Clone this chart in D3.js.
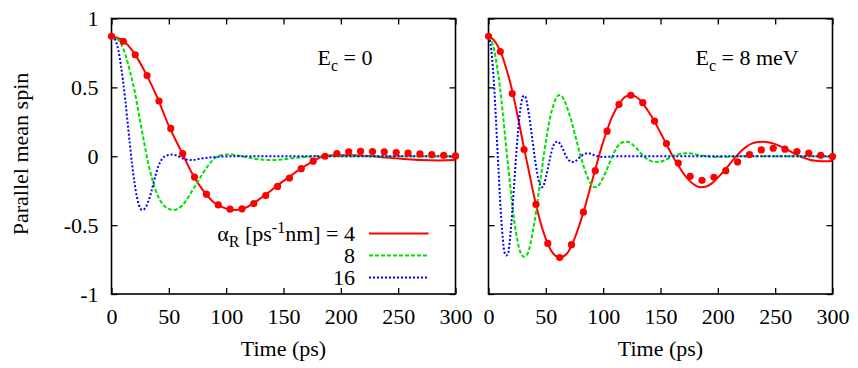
<!DOCTYPE html>
<html lang="en">
<head>
<meta charset="UTF-8">
<title>Parallel mean spin</title>
<script src="https://d3js.org/d3.v7.min.js"></script>
<style>
    body { margin: 0; background: #fff; }
    svg { display: block; }
</style>
</head>
<body>
<script>
    // tick values
    const timeTicks = [0, 50, 100, 150, 200, 250, 300];
    const spinTicks = [-1, -0.5, 0, 0.5, 1];

    // times of the dots (same for both panels)
    const dotTimes = [0, 10.3, 20.7, 31.0, 41.4, 51.7, 62.1, 72.4, 82.8, 93.1, 103.4, 113.8, 124.1, 134.5, 144.8,
        155.2, 165.5, 175.9, 186.2, 196.6, 206.9, 217.2, 227.6, 237.9, 248.3, 258.6, 269.0, 279.3, 289.7, 300];

    // Ec = 0, dots for alpha = 4
    const dotsEc0 = [0.871, 0.835, 0.737, 0.586, 0.401, 0.202, 0.019, -0.151, -0.275, -0.353, -0.384, -0.382, -0.343, -0.285, -0.219,
        -0.158, -0.09, -0.036, 0.0, 0.02, 0.032, 0.036, 0.034, 0.032, 0.027, 0.022, 0.017, 0.012, 0.007, 0.002];
    // Ec = 8 meV, dots for alpha = 4
    const dotsEc8 = [0.871, 0.76, 0.455, 0.049, -0.35, -0.633, -0.735, -0.642, -0.406, -0.105, 0.182, 0.377, 0.443, 0.389, 0.255,
        0.092, -0.049, -0.146, -0.175, -0.153, -0.105, -0.041, 0.012, 0.046, 0.058, 0.051, 0.034, 0.022, 0.007, -0.002];

    // curves [time, spin]
    const ec0Alpha4 = [[0, 0.87], [10, 0.84], [20, 0.745], [30, 0.6], [40, 0.425], [50, 0.22], [60, 0.05], [70, -0.12],
        [80, -0.25], [90, -0.34], [100, -0.38], [108, -0.39], [115, -0.38], [125, -0.335], [135, -0.275], [145, -0.21],
        [155, -0.15], [165, -0.09], [175, -0.04], [185, 0], [195, 0.008], [210, 0.008], [225, 0.002], [240, -0.01],
        [255, -0.02], [270, -0.028], [285, -0.03], [300, -0.028]];
    const ec0Alpha8 = [[0, 0.87], [4, 0.86], [8, 0.82], [12, 0.74], [16, 0.62], [20, 0.48], [24, 0.3], [28, 0.12],
        [32, -0.05], [36, -0.18], [40, -0.28], [44, -0.34], [48, -0.375], [54, -0.39], [58, -0.38], [62, -0.355],
        [66, -0.31], [70, -0.255], [75, -0.19], [80, -0.12], [85, -0.06], [90, -0.015], [95, 0.005], [100, 0.012],
        [105, 0.012], [110, 0.006], [120, -0.01], [130, -0.024], [140, -0.028], [150, -0.022], [160, -0.012],
        [170, -0.004], [180, 0], [240, 0], [300, 0]];
    const ec0Alpha16 = [[0, 0.87], [2, 0.86], [4, 0.83], [6, 0.77], [8, 0.67], [10, 0.55], [12, 0.41], [14, 0.25],
        [16, 0.09], [18, -0.06], [20, -0.19], [22, -0.29], [24, -0.355], [26.7, -0.39], [29, -0.38], [32, -0.33],
        [35, -0.25], [38, -0.15], [41, -0.07], [44, -0.02], [48, 0.005], [53, 0.012], [57, 0.005], [61, -0.012],
        [66, -0.025], [70, -0.028], [76, -0.02], [85, -0.01], [95, -0.003], [110, 0], [200, 0], [300, 0]];

    const ec8Alpha4 = [[0, 0.87], [5, 0.84], [10, 0.77], [15, 0.65], [20, 0.5], [25, 0.31], [30, 0.1], [35, -0.1],
        [40, -0.3], [45, -0.47], [50, -0.6], [55, -0.69], [62, -0.735], [68, -0.71], [73, -0.64], [78, -0.53],
        [83, -0.4], [88, -0.25], [93, -0.1], [98, 0.05], [103, 0.18], [108, 0.29], [114, 0.38], [119, 0.43],
        [124, 0.445], [129, 0.43], [134, 0.39], [139, 0.33], [145, 0.25], [150, 0.17], [155, 0.09], [160, 0.01],
        [165, -0.06], [170, -0.125], [175, -0.175], [180, -0.21], [185, -0.225], [190, -0.22], [195, -0.195],
        [200, -0.155], [205, -0.11], [210, -0.06], [215, -0.01], [220, 0.035], [225, 0.07], [230, 0.093],
        [235, 0.104], [240, 0.106], [245, 0.1], [250, 0.088], [255, 0.07], [260, 0.05], [265, 0.027], [270, 0.005],
        [275, -0.012], [280, -0.025], [285, -0.033], [290, -0.036], [295, -0.036], [300, -0.032]];
    const ec8Alpha8 = [[0, 0.87], [2.5, 0.84], [5, 0.77], [7.5, 0.65], [10, 0.5], [12.5, 0.31], [15, 0.1], [17.5, -0.1],
        [20, -0.3], [22.5, -0.47], [25, -0.6], [27.5, -0.69], [31, -0.73], [34, -0.71], [36.5, -0.64], [39, -0.53],
        [41.5, -0.4], [44, -0.25], [46.5, -0.1], [49, 0.05], [51.5, 0.18], [54, 0.29], [57, 0.38], [59.5, 0.43],
        [62, 0.445], [64.5, 0.43], [67, 0.39], [69.5, 0.33], [72.5, 0.25], [75, 0.17], [77.5, 0.09], [80, 0.01],
        [82.5, -0.06], [85, -0.125], [87.5, -0.175], [90, -0.21], [92.5, -0.225], [95, -0.22], [97.5, -0.195],
        [100, -0.155], [102.5, -0.11], [105, -0.06], [107.5, -0.01], [110, 0.035], [112.5, 0.07], [115, 0.093],
        [118, 0.104], [121, 0.106], [124, 0.095], [127, 0.075], [130, 0.05], [133, 0.02], [136, -0.005],
        [140, -0.028], [144, -0.04], [148, -0.042], [152, -0.035], [156, -0.02], [160, -0.003], [165, 0.012],
        [170, 0.02], [175, 0.022], [180, 0.015], [185, 0.006], [190, 0], [200, -0.005], [210, -0.003], [220, 0],
        [260, 0], [300, 0]];
    const ec8Alpha16 = [[0, 0.87], [1.25, 0.84], [2.5, 0.77], [3.75, 0.65], [5, 0.5], [6.25, 0.31], [7.5, 0.1],
        [8.75, -0.1], [10, -0.3], [11.25, -0.47], [12.5, -0.6], [13.75, -0.69], [15.5, -0.72], [17, -0.71],
        [18.25, -0.64], [19.5, -0.53], [20.75, -0.4], [22, -0.25], [23.25, -0.1], [24.5, 0.05], [25.75, 0.18],
        [27, 0.29], [28.5, 0.38], [29.75, 0.43], [31, 0.44], [32.25, 0.43], [33.5, 0.39], [34.75, 0.33],
        [36.25, 0.25], [37.5, 0.17], [38.75, 0.09], [40, 0.01], [41.25, -0.06], [42.5, -0.125], [43.75, -0.175],
        [45, -0.21], [46.25, -0.225], [47.5, -0.22], [48.75, -0.195], [50, -0.155], [51.25, -0.11], [52.5, -0.06],
        [53.75, -0.01], [55, 0.035], [56.25, 0.07], [57.5, 0.093], [59, 0.104], [60.5, 0.106], [62, 0.095],
        [63.5, 0.075], [65, 0.05], [66.5, 0.02], [68, -0.005], [70, -0.028], [72, -0.04], [74, -0.042],
        [76, -0.035], [78, -0.02], [80, -0.003], [82.5, 0.012], [85, 0.02], [87.5, 0.022], [90, 0.015],
        [92.5, 0.006], [95, 0], [100, -0.005], [105, -0.003], [110, 0], [200, 0], [300, 0]];

    const alphaLabels = ["4", "8", "16"];

    const width = 858, height = 368;
    const plotTop = 18.5, plotBottom = 294;
    const panelW = 344;
    const fontSize = 22;
    const serif = "Liberation Serif";

    // line styles for the three alpha values
    const styles = [
        { color: "#ff0000", dash: null, width: 2 },
        { color: "#00e000", dash: "4,2", width: 2 },
        { color: "#0000ff", dash: "2,2", width: 2 }
    ];

    const svg = d3.select("body").append("svg")
        .attr("width", width)
        .attr("height", height)
        .attr("font-family", serif);

    const y = d3.scaleLinear().domain([-1, 1]).range([plotBottom, plotTop]);

    function drawPanel(left, curves, dots, note, showYLabels) {
        const x = d3.scaleLinear().domain([0, 300]).range([left, left + panelW]);
        const g = svg.append("g");

        // axes with inner ticks on all four sides
        g.append("g").attr("transform", `translate(0,${plotBottom})`)
            .call(d3.axisBottom(x).tickValues(timeTicks).tickSize(-6).tickPadding(14).tickFormat(d => String(d)));
        g.append("g").attr("transform", `translate(0,${plotTop})`)
            .call(d3.axisTop(x).tickValues(timeTicks).tickSize(-6).tickFormat(""));
        g.append("g").attr("transform", `translate(${left},0)`)
            .call(d3.axisLeft(y).tickValues(spinTicks).tickSize(-6).tickPadding(13)
                .tickFormat(d => showYLabels ? String(d) : ""));
        g.append("g").attr("transform", `translate(${left + panelW},0)`)
            .call(d3.axisRight(y).tickValues(spinTicks).tickSize(-6).tickFormat(""));

        g.selectAll(".domain").remove();
        g.selectAll(".tick line").attr("stroke", "#000").attr("stroke-width", 1.3);
        g.selectAll("g").attr("font-family", serif).attr("font-size", fontSize);
        g.selectAll(".tick text").attr("fill", "#000");

        // frame
        g.append("rect")
            .attr("x", left).attr("y", plotTop)
            .attr("width", panelW).attr("height", plotBottom - plotTop)
            .attr("fill", "none").attr("stroke", "#000").attr("stroke-width", 1.6);

        const line = d3.line()
            .x(d => x(d[0]))
            .y(d => y(d[1]))
            .curve(d3.curveMonotoneX);

        curves.forEach((c, i) => {
            g.append("path")
                .datum(c)
                .attr("d", line)
                .attr("fill", "none")
                .attr("stroke", styles[i].color)
                .attr("stroke-width", styles[i].width)
                .attr("stroke-dasharray", styles[i].dash);
        });

        g.append("g").selectAll("circle")
            .data(dots)
            .enter().append("circle")
            .attr("cx", (d, i) => x(dotTimes[i]))
            .attr("cy", d => y(d))
            .attr("r", 3.6)
            .attr("fill", "#ff0000");

        // E_c note
        const t = g.append("text")
            .attr("x", left + note.dx)
            .attr("y", 65)
            .attr("font-size", fontSize);
        t.append("tspan").text("E");
        t.append("tspan").attr("font-size", 16).attr("dy", 6).text("c");
        t.append("tspan").attr("dy", -6).text(note.rest);

        // x title
        g.append("text")
            .attr("x", left + panelW / 2)
            .attr("y", 356)
            .attr("text-anchor", "middle")
            .attr("font-size", fontSize)
            .text("Time (ps)");

        return x;
    }

    drawPanel(111.5, [ec0Alpha4, ec0Alpha8, ec0Alpha16], dotsEc0, { dx: 206, rest: " = 0" }, true);
    drawPanel(488.5, [ec8Alpha4, ec8Alpha8, ec8Alpha16], dotsEc8, { dx: 207, rest: " = 8 meV" }, false);

    // y title
    svg.append("text")
        .attr("transform", "translate(28,154) rotate(-90)")
        .attr("text-anchor", "middle")
        .attr("font-size", fontSize)
        .text("Parallel mean spin");

    // legend
    const legendRows = [233.5, 255.5, 277.5];
    const legend = svg.append("g");
    alphaLabels.forEach((lab, i) => {
        const ty = legendRows[i] + 7;
        const txt = legend.append("text")
            .attr("x", 355)
            .attr("y", ty)
            .attr("text-anchor", "end")
            .attr("font-size", fontSize);
        if (i === 0) {
            txt.append("tspan").text("\u03b1");
            txt.append("tspan").attr("font-size", 16).attr("dy", 6).text("R");
            txt.append("tspan").attr("dy", -6).text(" [ps");
            txt.append("tspan").attr("font-size", 16).attr("dy", -8).text("-1");
            txt.append("tspan").attr("dy", 8).text("nm] = " + lab);
        } else {
            txt.text(lab);
        }
        legend.append("line")
            .attr("x1", 369).attr("x2", 428.5)
            .attr("y1", legendRows[i]).attr("y2", legendRows[i])
            .attr("stroke", styles[i].color)
            .attr("stroke-width", styles[i].width)
            .attr("stroke-dasharray", styles[i].dash);
    });
</script>
</body>
</html>
